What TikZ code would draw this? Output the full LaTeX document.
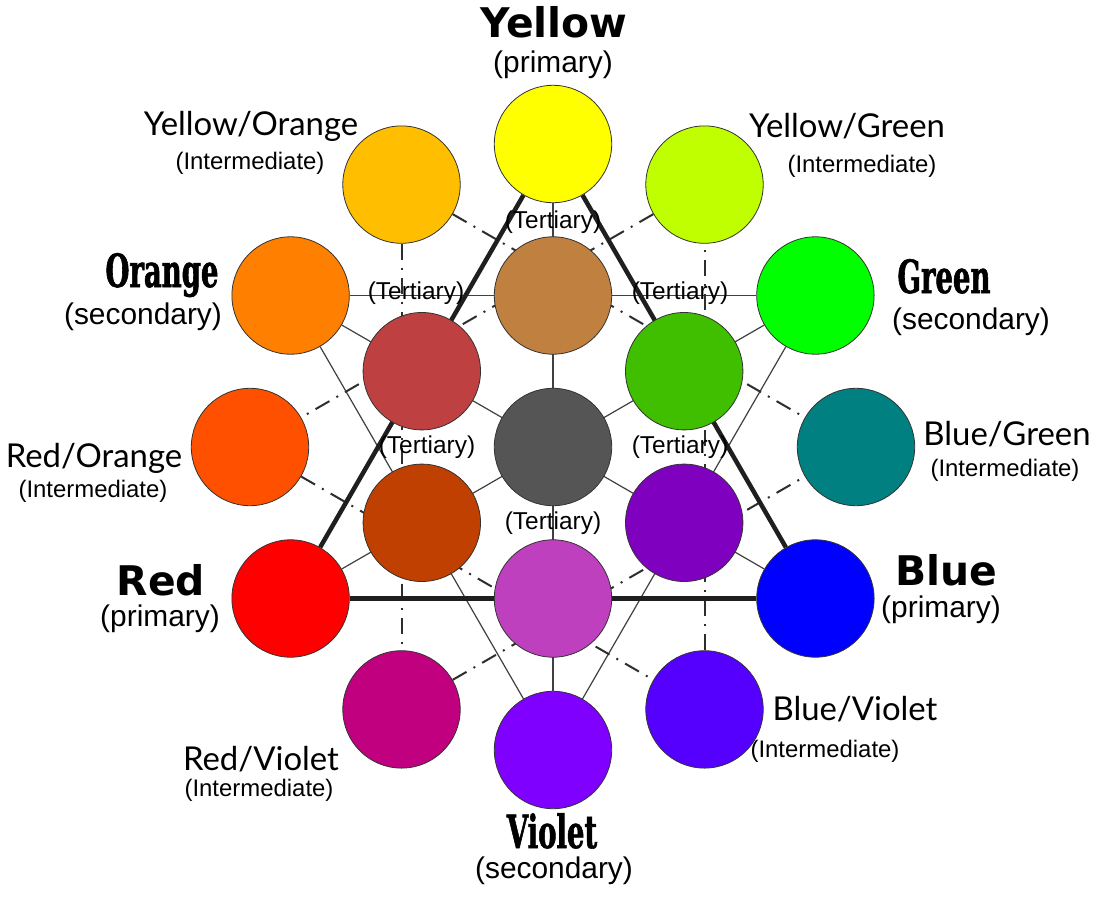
\documentclass[tikz,border=0pt]{standalone}
\usepackage{fontspec}
\setmainfont{Liberation Sans}
\newfontfamily\prifont{DejaVu Sans}
\newfontfamily\secfont[FakeStretch=0.6,FakeBold=1.2]{DejaVu Serif}
\newfontfamily\intfont{Lato}
\pgfdeclarelayer{bg}
\pgfsetlayers{bg,main}
\definecolor{cY}{HTML}{FFFF00}
\definecolor{cYG}{HTML}{BFFF00}
\definecolor{cG}{HTML}{00FF00}
\definecolor{cBG}{HTML}{008080}
\definecolor{cB}{HTML}{0000FF}
\definecolor{cBV}{HTML}{5500FF}
\definecolor{cV}{HTML}{8000FF}
\definecolor{cRV}{HTML}{C0007F}
\definecolor{cR}{HTML}{FF0000}
\definecolor{cRO}{HTML}{FF5000}
\definecolor{cO}{HTML}{FF8000}
\definecolor{cYO}{HTML}{FFBF00}
\definecolor{tBr}{HTML}{BF8040}
\definecolor{tRd}{HTML}{BF4040}
\definecolor{tGr}{HTML}{40BF00}
\definecolor{tGy}{HTML}{555555}
\definecolor{tRu}{HTML}{BF4000}
\definecolor{tPu}{HTML}{8000BF}
\definecolor{tMa}{HTML}{BF40BF}
\tikzset{
  disc/.style={circle, draw=black!80, line width=0.8bp, minimum size=117.4bp, inner sep=0pt},
  thickln/.style={line width=4.5bp, draw=black!88},
  thinln/.style={line width=1.2bp, draw=black!75},
  dashln/.style={line width=2bp, draw=black!82, dash pattern=on 16bp off 8bp on 2bp off 8bp},
  lbl/.style={inner sep=0pt, text=black},
  prim/.style={lbl, font=\prifont\bfseries\fontsize{41}{41}\selectfont},
  secn/.style={lbl, font=\secfont\bfseries\fontsize{46}{46}\selectfont},
  interm/.style={lbl, font=\intfont\fontsize{33}{33}\selectfont},
  sub/.style={lbl, font=\fontsize{30}{30}\selectfont},
  subs/.style={lbl, font=\fontsize{24}{24}\selectfont},
  tert/.style={lbl, font=\fontsize{24.5}{24.5}\selectfont},
}
\begin{document}
\begin{tikzpicture}[x=1bp, y=-1bp]
\useasboundingbox (0,0) rectangle (1109,899);
% outer ring
\node[disc, fill=cBG] (BG) at (856,447) {};
\node[disc, fill=cG]  (G)  at (815.4,295.5) {};
\node[disc, fill=cYG] (YG) at (704.5,184.6) {};
\node[disc, fill=cY]  (Y)  at (553,144) {};
\node[disc, fill=cYO] (YO) at (401.5,184.6) {};
\node[disc, fill=cO]  (O)  at (290.6,295.5) {};
\node[disc, fill=cRO] (RO) at (250,447) {};
\node[disc, fill=cR]  (R)  at (290.6,598.5) {};
\node[disc, fill=cRV] (RV) at (401.5,709.4) {};
\node[disc, fill=cV]  (V)  at (553,750) {};
\node[disc, fill=cBV] (BV) at (704.5,709.4) {};
\node[disc, fill=cB]  (B)  at (815.4,598.5) {};
% inner ring
\node[disc, fill=tBr] (T1) at (553,295.5) {};
\node[disc, fill=tRd] (T2) at (421.8,371.2) {};
\node[disc, fill=tGr] (T3) at (684.2,371.2) {};
\node[disc, fill=tGy] (C)  at (553,447) {};
\node[disc, fill=tRu] (T4) at (421.8,522.8) {};
\node[disc, fill=tPu] (T5) at (684.2,522.8) {};
\node[disc, fill=tMa] (T6) at (553,598.5) {};
% connectors
\begin{pgfonlayer}{bg}
\fill[white] (0,0) rectangle (1109,899);
\draw[thinln] (O) -- (G);
\draw[thinln] (O) -- (V);
\draw[thinln] (G) -- (V);
\draw[thinln] (Y) -- (V);
\draw[thinln] (O) -- (B);
\draw[thinln] (G) -- (R);
\draw[dashln] (YO) -- (BG);
\draw[dashln] (YO) -- (RV);
\draw[dashln] (RV) -- (BG);
\draw[dashln] (YG) -- (RO);
\draw[dashln] (RO) -- (BV);
\draw[dashln] (BV) -- (YG);
\draw[thickln] (Y) -- (R);
\draw[thickln] (R) -- (B);
\draw[thickln] (B) -- (Y);
\end{pgfonlayer}
% labels
\node[prim, anchor=base] (lY) at (554,37) {Yellow};
\node[sub] (lYs) at (553,65) {(primary)};
\node[interm, anchor=base] (lYO) at (251,135) {Yellow/Orange};
\node[subs] (lYOs) at (250,163) {(Intermediate)};
\node[secn, anchor=base] (lO) at (162,287) {Orange};
\node[sub] (lOs) at (143,317) {(secondary)};
\node[interm, anchor=base] (lRO) at (94,467) {Red/Orange};
\node[subs] (lROs) at (93,491) {(Intermediate)};
\node[prim, anchor=base] (lR) at (161,595) {Red};
\node[sub] (lRs) at (160,619) {(primary)};
\node[interm, anchor=base] (lRV) at (261,770) {Red/Violet};
\node[subs] (lRVs) at (259,790) {(Intermediate)};
\node[secn, anchor=base] (lV) at (552,848) {Violet};
\node[sub] (lVs) at (554,871) {(secondary)};
\node[interm, anchor=base] (lBV) at (855,720) {Blue/Violet};
\node[subs] (lBVs) at (825,751) {(Intermediate)};
\node[prim, anchor=base] (lB) at (946,585) {Blue};
\node[sub] (lBs) at (941,610) {(primary)};
\node[interm, anchor=base] (lBG) at (1007,445) {Blue/Green};
\node[subs] (lBGs) at (1005,470) {(Intermediate)};
\node[secn, anchor=base] (lG) at (944,293) {Green};
\node[sub] (lGs) at (971,322) {(secondary)};
\node[interm, anchor=base] (lYG) at (847,137) {Yellow/Green};
\node[subs] (lYGs) at (862,166) {(Intermediate)};
% tertiary labels
\node[tert] (t1) at (553,222) {(Tertiary)};
\node[tert] (t2) at (416,293) {(Tertiary)};
\node[tert] (t3) at (680,293) {(Tertiary)};
\node[tert] (t4) at (427,447) {(Tertiary)};
\node[tert] (t5) at (680,447) {(Tertiary)};
\node[tert] (t6) at (553,523) {(Tertiary)};
\end{tikzpicture}
\end{document}
